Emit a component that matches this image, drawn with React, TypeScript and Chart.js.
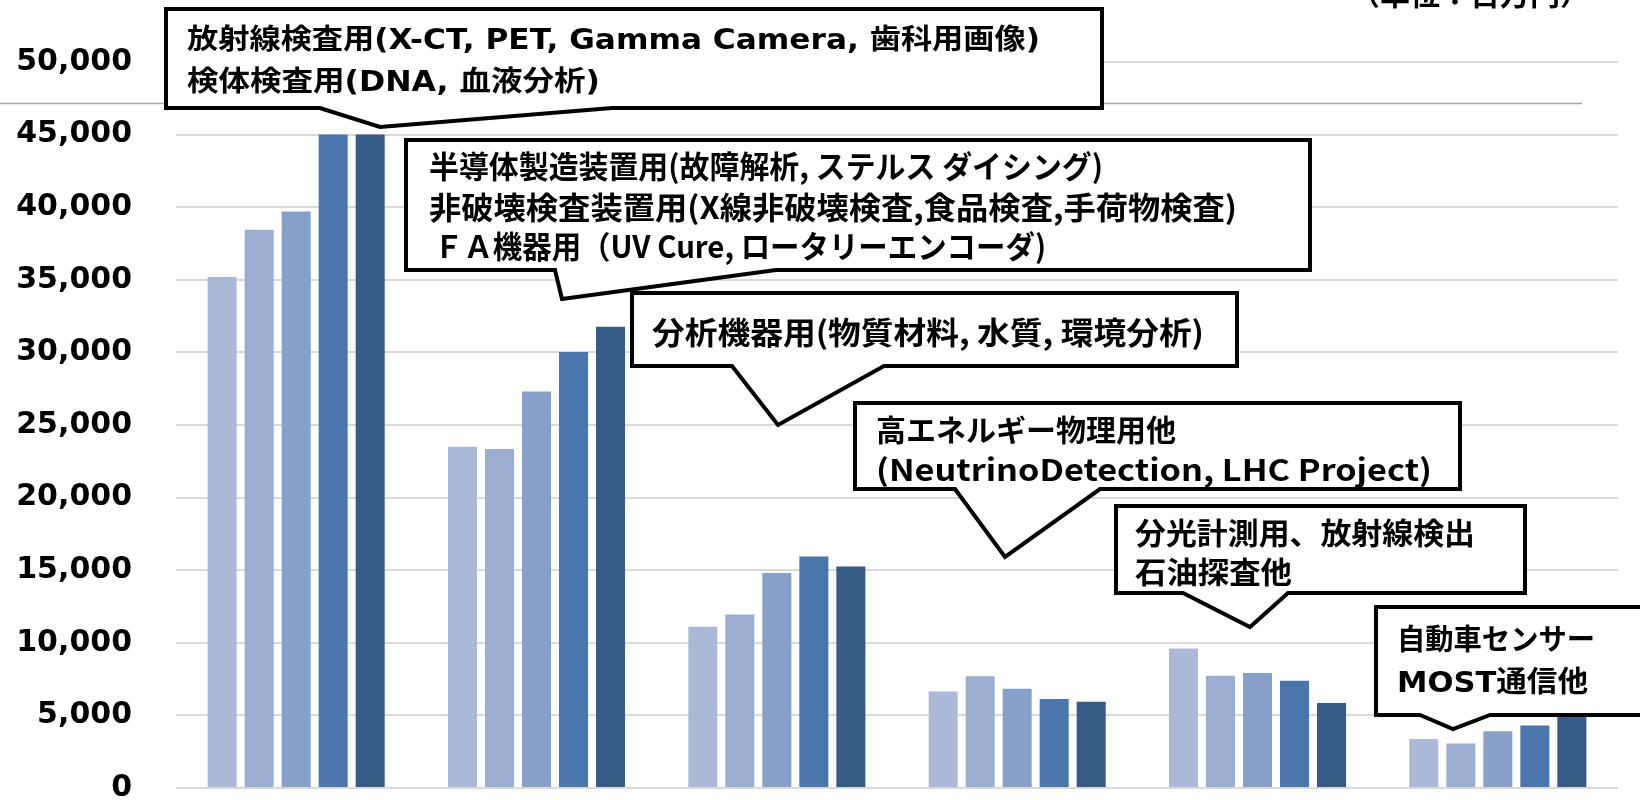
import React, { useEffect, useRef } from "react";
import { Chart, registerables } from "chart.js";

Chart.register(...registerables);

// ---- data ----
const categories = [
  "放射線検査用・検体検査用",
  "半導体製造装置用・非破壊検査装置用・FA機器用",
  "分析機器用",
  "高エネルギー物理用他",
  "分光計測用、放射線検出・石油探査他",
  "自動車センサー・MOST通信他",
];
const seriesNames = ["系列1", "系列2", "系列3", "系列4", "系列5"];
const series1 = [35200, 23500, 11100, 6650, 9600, 3370];
const series2 = [38450, 23350, 11950, 7690, 7730, 3070];
const series3 = [39700, 27300, 14800, 6840, 7920, 3900];
const series4 = [45000, 30030, 15950, 6130, 7390, 4310];
const series5 = [45000, 31770, 15260, 5940, 5850, 5500];
const yTicks = [0, 5000, 10000, 15000, 20000, 25000, 30000, 35000, 40000, 45000, 50000];
const unitLabel = "（単位：百万円）";

// callout texts
const callout1Lines = ["放射線検査用(X-CT, PET, Gamma Camera, 歯科用画像)", "検体検査用(DNA, 血液分析)"];
const callout2Lines = [
  "半導体製造装置用(故障解析, ステルス ダイシング)",
  "非破壊検査装置用(X線非破壊検査,食品検査,手荷物検査)",
  "ＦＡ機器用（UV Cure, ロータリーエンコーダ)",
];
const callout3Lines = ["分析機器用(物質材料, 水質, 環境分析)"];
const callout4Lines = ["高エネルギー物理用他", "(NeutrinoDetection, LHC Project)"];
const callout5Lines = ["分光計測用、放射線検出", "石油探査他"];
const callout6Lines = ["自動車センサー", "MOST通信他"];

// ---- styles / layout ----
const colors = ["#ABB9D7", "#9BAED2", "#86A0CA", "#4A76AC", "#375B87"];
const FONT_LATIN = '"DejaVu Sans", "Noto Sans CJK JP", sans-serif';
const FONT_CJK = '"Noto Sans CJK JP", "DejaVu Sans", sans-serif';

type Callout = {
  box: [number, number, number, number];
  ptr: [number, number, number, number, number, number];
  lines: string[];
  lx: number[];
  ly: number[];
  lw: number[];
  size: number;
  family: string;
};

const callouts: Callout[] = [
  {
    box: [166, 9, 1102, 108],
    ptr: [320, 108, 380, 127, 612, 108],
    lines: callout1Lines,
    lx: [187, 187],
    ly: [42, 84],
    lw: [853, 413],
    size: 28,
    family: FONT_LATIN,
  },
  {
    box: [406, 140, 1310, 270],
    ptr: [555, 270, 562, 299, 776, 270],
    lines: callout2Lines,
    lx: [429, 429, 434],
    ly: [166, 207, 246],
    lw: [674, 808, 612],
    size: 31,
    family: FONT_CJK,
  },
  {
    box: [632, 293, 1237, 366],
    ptr: [732, 366, 778, 425, 884, 366],
    lines: callout3Lines,
    lx: [652],
    ly: [332],
    lw: [552],
    size: 31,
    family: FONT_CJK,
  },
  {
    box: [855, 403, 1460, 489],
    ptr: [955, 489, 1005, 557, 1100, 489],
    lines: callout4Lines,
    lx: [876, 876],
    ly: [430, 470],
    lw: [300, 556],
    size: 30,
    family: FONT_CJK,
  },
  {
    box: [1116, 506, 1525, 593],
    ptr: [1183, 593, 1250, 627, 1288, 593],
    lines: callout5Lines,
    lx: [1135, 1135],
    ly: [533, 572],
    lw: [340, 157],
    size: 30,
    family: FONT_CJK,
  },
  {
    box: [1376, 607, 1700, 715],
    ptr: [1420, 715, 1453, 729, 1490, 715],
    lines: callout6Lines,
    lx: [1397, 1397],
    ly: [642, 684],
    lw: [198, 191],
    size: 29,
    family: FONT_LATIN,
  },
];

const overlayPlugin = {
  id: "overlay",
  afterDraw(chart: any) {
    const ctx: CanvasRenderingContext2D = chart.ctx;
    ctx.save();
    // top separator line (from the original slide)
    ctx.strokeStyle = "#A6A6A6";
    ctx.lineWidth = 1.5;
    ctx.beginPath();
    ctx.moveTo(0, 103.5);
    ctx.lineTo(1582, 103.5);
    ctx.stroke();

    // unit label (cut at top)
    ctx.fillStyle = "#000";
    ctx.font = `bold 30px ${FONT_CJK}`;
    ctx.textBaseline = "alphabetic";
    ctx.textAlign = "left";
    ctx.fillText(unitLabel, 1350, 5);

    for (const c of callouts) {
      const [l, t, r, b] = c.box;
      const [p1x, p1y, tx, ty, p2x, p2y] = c.ptr;
      ctx.beginPath();
      ctx.moveTo(l, t);
      ctx.lineTo(r, t);
      ctx.lineTo(r, b);
      ctx.lineTo(p2x, p2y);
      ctx.lineTo(tx, ty);
      ctx.lineTo(p1x, p1y);
      ctx.lineTo(l, b);
      ctx.closePath();
      ctx.fillStyle = "#FFFFFF";
      ctx.fill();
      ctx.lineWidth = 4;
      ctx.lineJoin = "miter";
      ctx.strokeStyle = "#000";
      ctx.stroke();

      ctx.fillStyle = "#000";
      ctx.font = `bold ${c.size}px ${c.family}`;
      ctx.textBaseline = "middle";
      ctx.textAlign = "left";
      c.lines.forEach((txt, i) => {
        const m = ctx.measureText(txt).width;
        ctx.save();
        ctx.translate(c.lx[i], c.ly[i]);
        ctx.scale(c.lw[i] / m, 1);
        ctx.fillText(txt, 0, 0);
        ctx.restore();
      });
    }
    ctx.restore();
  },
};

export default function App() {
  const ref = useRef<HTMLCanvasElement | null>(null);
  useEffect(() => {
    document.body.style.margin = "0";
    const canvas = ref.current!;
    const allSeries = [series1, series2, series3, series4, series5];
    const chart = new Chart(canvas, {
      type: "bar",
      data: {
        labels: categories,
        datasets: allSeries.map((d, i) => ({
          label: seriesNames[i],
          data: d,
          backgroundColor: colors[i],
          borderWidth: 0,
          categoryPercentage: 0.77,
          barPercentage: 0.784,
        })),
      },
      options: {
        responsive: false,
        animation: false,
        layout: { padding: { left: 0, right: 22, top: 62, bottom: 12 } },
        plugins: { legend: { display: false }, tooltip: { enabled: false }, title: { display: false } },
        scales: {
          x: { display: false },
          y: {
            min: 0,
            max: 50000,
            afterBuildTicks: (s: any) => {
              s.ticks = yTicks.map((v) => ({ value: v }));
            },
            afterFit: (s: any) => {
              s.width = 176;
            },
            border: { display: false },
            grid: { color: "#D9D9D9", lineWidth: 2, drawTicks: true, tickLength: 44, tickColor: "rgba(0,0,0,0)" },
            ticks: {
              padding: 0,
              color: "#000",
              font: { family: '"DejaVu Sans"', weight: "bold", size: 30, lineHeight: 0.7 },
              callback: (v: any) => Number(v).toLocaleString("en-US"),
            },
          },
        },
      },
      plugins: [overlayPlugin],
    });
    return () => chart.destroy();
  }, []);
  return (
    <div style={{ position: "fixed", left: 0, top: 0, width: 1640, height: 800, background: "#fff" }}>
      <canvas ref={ref} width={1640} height={800} style={{ width: 1640, height: 800, display: "block" }} />
    </div>
  );
}
